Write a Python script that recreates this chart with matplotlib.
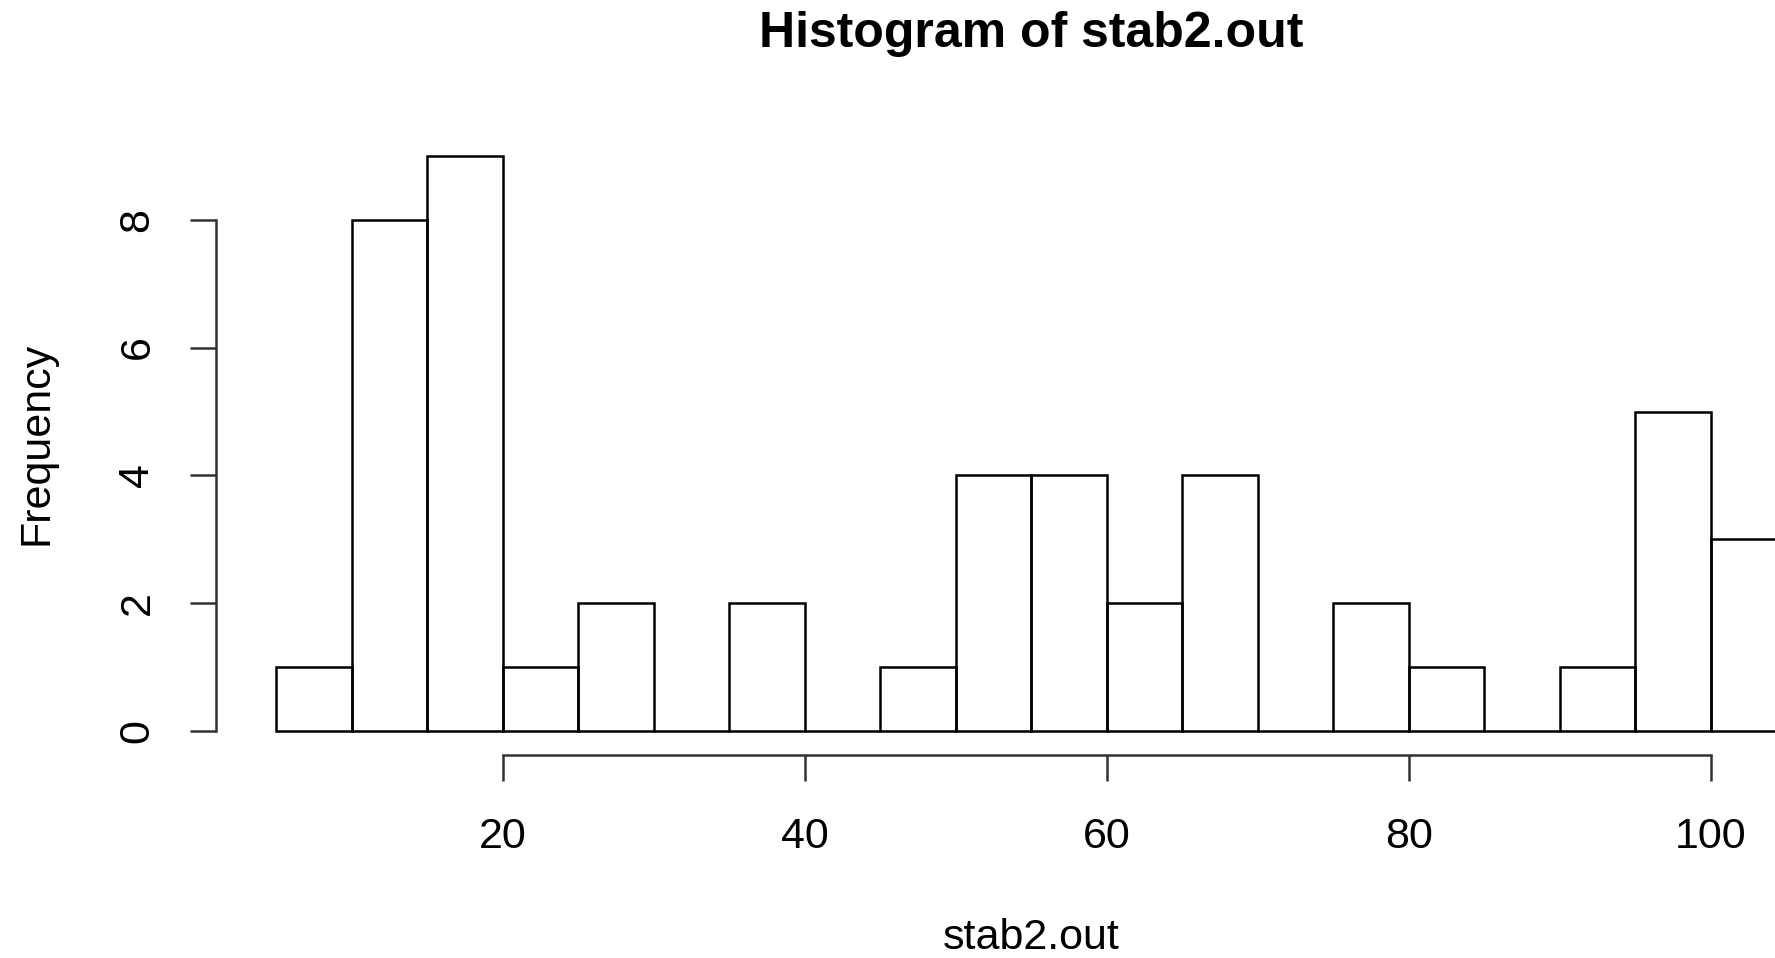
import numpy as np
import matplotlib
matplotlib.use("Agg")
import matplotlib.pyplot as plt

plt.rcParams['font.family'] = ['Liberation Sans', 'DejaVu Sans']

# histogram of stab2.out, bin width 5
bin_left = [5, 10, 15, 20, 25, 30, 35, 40, 45, 50, 55, 60, 65, 70, 75, 80, 85, 90, 95, 100]
counts = [1, 8, 9, 1, 2, 0, 2, 0, 1, 4, 4, 2, 4, 0, 2, 1, 0, 1, 5, 3]
bin_width = 5
x_ticks = [20, 40, 60, 80, 100]
y_ticks = [0, 2, 4, 6, 8]

W, H = 1775, 958
fig = plt.figure(figsize=(W / 100, H / 100), dpi=100)
# plot region in R extends 4% past the data; right part is cropped off the image
ax = fig.add_axes([215.8 / W, 1 - 754.5 / H, (1846.6 - 215.8) / W, (754.5 - 132.5) / H])
ax.set_xlim(1, 109)
ax.set_ylim(-0.36, 9.36)

ax.bar(bin_left, counts, width=bin_width, align='edge', fill=False,
       edgecolor='black', linewidth=1.8, clip_on=False)

for side in ['top', 'right']:
    ax.spines[side].set_visible(False)
ax.spines['left'].set_bounds(0, 8)
ax.spines['bottom'].set_bounds(20, 100)
for side in ['left', 'bottom']:
    ax.spines[side].set_linewidth(1.8)
    ax.spines[side].set_color('#333333')

ax.set_xticks(x_ticks)
ax.set_yticks(y_ticks)
ax.tick_params(axis='both', length=19, width=1.8, color='#333333', labelsize=31)
ax.tick_params(axis='x', pad=26)
ax.tick_params(axis='y', pad=23)
for lbl in ax.get_yticklabels():
    lbl.set_rotation(90)
    lbl.set_va('center')

fig.text(1031 / W, 1 - 34 / H, "Histogram of stab2.out", ha='center', va='center',
         fontsize=36, fontweight='bold')
fig.text(1031 / W, 1 - 938 / H, "stab2.out", ha='center', va='center', fontsize=31)
fig.text(37 / W, 1 - 443 / H, "Frequency", ha='center', va='center', fontsize=31, rotation=90)

fig.savefig("out.png", dpi=100)
